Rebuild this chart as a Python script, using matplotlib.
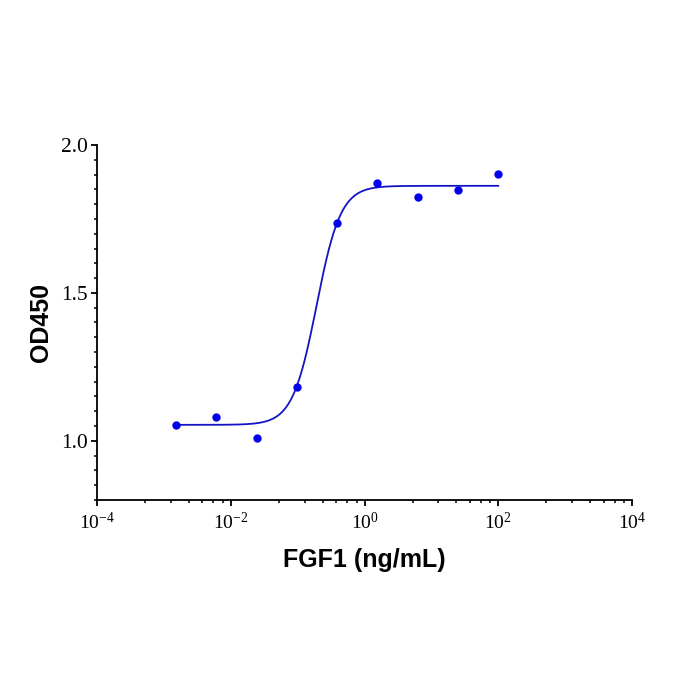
import numpy as np
import matplotlib
matplotlib.use("Agg")
import matplotlib.pyplot as plt
from matplotlib.ticker import FixedLocator, FuncFormatter, NullFormatter

plt.rcParams['mathtext.fontset'] = 'custom'
plt.rcParams['mathtext.rm'] = 'Liberation Serif'
plt.rcParams['mathtext.it'] = 'Liberation Serif:italic'
plt.rcParams['mathtext.bf'] = 'Liberation Serif:bold'

# Data
conc = [100, 25, 6.25, 1.5625, 0.390625, 0.09766, 0.02441, 0.006104, 0.001526]
od450 = [1.902, 1.848, 1.823, 1.872, 1.735, 1.183, 1.008, 1.079, 1.052]

# 4PL fit parameters
fit_bottom = 1.054
fit_top = 1.862
fit_log_ec50 = -0.716
fit_hill = 2.41

x_major = [1e-4, 1e-2, 1e0, 1e2, 1e4]
y_major = [1.0, 1.5, 2.0]

fig = plt.figure(figsize=(7, 7), dpi=100)
ax = fig.add_axes([97/700, 1-500/700, (632-97)/700, (500-145)/700])

xs = np.logspace(np.log10(min(conc)), np.log10(max(conc)), 400)
ys = fit_bottom + (fit_top - fit_bottom) / (1 + 10 ** ((fit_log_ec50 - np.log10(xs)) * fit_hill))
ax.plot(xs, ys, color='#1414C4', lw=1.3, zorder=2)
ax.plot(conc, od450, 'o', color='#0000EE', ms=6, mec='none', zorder=3)

ax.set_xscale('log')
ax.set_xlim(1e-4, 1e4)
ax.set_ylim(0.8, 2.0)

for s in ['top', 'right']:
    ax.spines[s].set_visible(False)
for s in ['left', 'bottom']:
    ax.spines[s].set_linewidth(1.3)

ax.xaxis.set_major_locator(FixedLocator(x_major))
minors = []
for m in x_major[:-1]:
    for j in range(1, 7):
        minors.append(m * (1 + 9 * j / 7) ** 2)
ax.xaxis.set_minor_locator(FixedLocator(minors))
ax.xaxis.set_minor_formatter(NullFormatter())

def fmt(v, pos):
    e = int(round(np.log10(v)))
    return r'$\mathregular{10^{%d}}$' % e
ax.xaxis.set_major_formatter(FuncFormatter(fmt))

ax.yaxis.set_major_locator(FixedLocator(y_major))
ax.yaxis.set_minor_locator(FixedLocator(np.arange(0.8, 2.0001, 0.05)))
ax.yaxis.set_minor_formatter(NullFormatter())
ax.yaxis.set_major_formatter(FuncFormatter(lambda v, p: '%.1f' % v))

ax.tick_params(axis='both', which='major', direction='out', length=4.5, width=1.3)
ax.tick_params(axis='x', which='major', labelsize=14, pad=4)
ax.tick_params(axis='y', which='major', labelsize=15.5, pad=2)
ax.tick_params(axis='both', which='minor', direction='out', length=2.5, width=1.1)
for lab in ax.get_xticklabels() + ax.get_yticklabels():
    lab.set_fontfamily('Liberation Serif')

ax.set_xlabel('FGF1 (ng/mL)', fontsize=18, fontweight='bold',
              fontfamily='Liberation Sans')
ax.xaxis.set_label_coords(0.5, -0.135)
ax.set_ylabel('OD450', fontsize=18, fontweight='bold',
              fontfamily='Liberation Sans')
ax.yaxis.set_label_coords(-0.082, 0.5)

fig.savefig('out.png', dpi=100)
